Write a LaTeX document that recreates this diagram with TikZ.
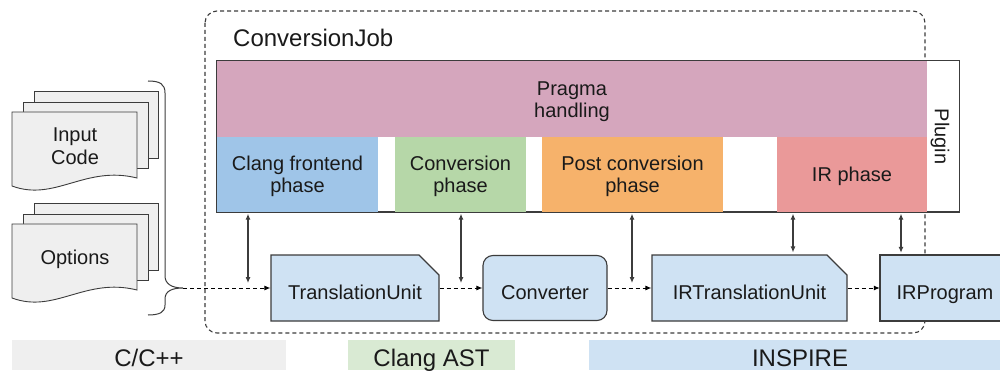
\documentclass[tikz,border=0pt]{standalone}
\usepackage{fontspec}
\setmainfont{Liberation Sans}
\usetikzlibrary{arrows.meta,shapes.misc}

\definecolor{pragmacol}{HTML}{D5A6BD}
\definecolor{clangcol}{HTML}{9FC5E8}
\definecolor{convcol}{HTML}{B6D7A8}
\definecolor{postcol}{HTML}{F6B26B}
\definecolor{ircol}{HTML}{EA9999}
\definecolor{unitcol}{HTML}{CFE2F3}
\definecolor{greycol}{HTML}{EFEFEF}
\definecolor{astcol}{HTML}{D9EAD3}
\definecolor{linecol}{HTML}{3C3C3C}
\definecolor{textcol}{HTML}{1A1A1A}

\tikzset{
  txt/.style={font=\fontsize{20}{22.5}\selectfont, text=textcol, align=center,
    inner sep=0pt, text depth=0pt},
  bigtxt/.style={font=\fontsize{24}{28}\selectfont, text=textcol, inner sep=0pt},
  phasebox/.style={txt, minimum height=75pt},
  unitbox/.style={txt, text height=22pt, draw=linecol, line width=1.1pt, fill=unitcol, minimum height=66pt},
  snipbox/.style={unitbox, chamfered rectangle, chamfered rectangle corners=north east,
    chamfered rectangle xsep=9pt, chamfered rectangle ysep=11pt},
  roundbox/.style={unitbox, rounded corners=10pt},
  band/.style={bigtxt, text depth=0pt, text height=23pt, minimum height=30pt},
  docline/.style={draw=linecol, line width=0.9pt, fill=greycol},
  jobline/.style={draw=linecol, line width=1.1pt, dash pattern=on 4pt off 3pt, rounded corners=12pt},
  flow/.style={draw=black, line width=1pt, dash pattern=on 4pt off 3pt,
    -{Latex[length=6pt,width=5pt]}},
  link/.style={draw=linecol, line width=1.1pt,
    {Latex[length=6pt,width=5pt]}-{Latex[length=6pt,width=5pt]}},
}

\begin{document}
\begin{tikzpicture}[x=1pt,y=-1pt]
\useasboundingbox (0,0) rectangle (1000,371);
\fill[white] (0,0) rectangle (1000,371);

% ConversionJob container
\draw[jobline] (205,11) rectangle (925,333);
\node[bigtxt, anchor=base west] (jobtitle) at (233,46.7) {ConversionJob};

% plugin frame with the phases inside it
\node[draw=linecol, line width=1pt, fill=white, minimum width=742pt, minimum height=151pt, inner sep=0pt]
  (plugin) at (588,136.5) {};
\node[phasebox, fill=pragmacol, minimum width=710pt, minimum height=76pt] (pragma) at (572,99.5) {Pragma\\handling};
\node[phasebox, fill=clangcol, minimum width=161pt] (clang) at (297.5,174.5) {Clang frontend\\phase};
\node[phasebox, fill=convcol, minimum width=131pt] (convph) at (460.5,174.5) {Conversion\\phase};
\node[phasebox, fill=postcol, minimum width=181pt] (postph) at (632.5,174.5) {Post conversion\\phase};
\node[phasebox, fill=ircol, minimum width=150pt] (irph) at (852,174.5) {IR phase};
\draw[linecol, line width=1pt] (plugin.north west) rectangle (plugin.south east);
\node[txt, rotate=-90] (plugintxt) at (942,136.5) {Plugin};

% input documents
\filldraw[docline] (34,91) rectangle (158,158);
\filldraw[docline] (23,102) rectangle (148,168);
\filldraw[docline] (12,112) -- (137,112) -- (137,178)
  .. controls (85,165) and (55,202) .. (12,186) -- cycle;
\node[txt, font=\fontsize{20}{23.3}\selectfont] (input) at (75,146) {Input\\Code};

\begin{scope}[shift={(0,112)}]
\filldraw[docline] (34,91) rectangle (158,158);
\filldraw[docline] (23,102) rectangle (148,168);
\filldraw[docline] (12,112) -- (137,112) -- (137,178)
  .. controls (85,165) and (55,202) .. (12,186) -- cycle;
\end{scope}
\node[txt] (options) at (75,257.5) {Options};

% brace gathering the inputs
\draw[linecol, line width=1pt] (148,81) .. controls (160,81) and (165,84) .. (165,93)
  -- (165,276) .. controls (165,284) and (172,288) .. (183,288)
  .. controls (172,288) and (165,291) .. (165,299)
  -- (165,305) .. controls (165,312) and (160,315) .. (148,315);
\coordinate (bracetip) at (183,288);

% data structures
\node[snipbox, minimum width=168pt] (tu) at (355,288) {TranslationUnit};
\node[roundbox, minimum width=124pt, minimum height=65pt] (conv) at (545,288) {Converter};
\node[snipbox, minimum width=195pt] (irtu) at (749.5,288) {IRTranslationUnit};
% the program box runs past the right edge of the page
\fill[unitcol] (880,255) rectangle (1000,321);
\draw[linecol, line width=1.1pt] (1000,255) -- (880,255) -- (880,321) -- (1000,321);
\node[txt, text height=22pt, minimum width=130pt, minimum height=66pt] (irprog) at (945,288) {IRProgram};

% data flow
\draw[flow] (bracetip) -- (tu.west);
\draw[flow] (tu.east) -- (conv.west);
\draw[flow] (conv.east) -- (irtu.west);
\draw[flow] (irtu.east) -- (irprog.west);

% phase interactions
\coordinate (l1) at (248,283);
\coordinate (l2) at (461,283);
\coordinate (l3) at (632,283);
\coordinate (l4) at (793,0);
\coordinate (l5) at (901,0);
\draw[link] ([yshift=-1.5pt]clang.south -| l1) -- (l1);
\draw[link] ([yshift=-1.5pt]convph.south -| l2) -- (l2);
\draw[link] ([yshift=-1.5pt]postph.south -| l3) -- (l3);
\draw[link] ([yshift=-1.5pt]irph.south -| l4) -- ([yshift=2pt]irtu.north -| l4);
\draw[link] ([yshift=-1.5pt]irph.south -| l5) -- ([yshift=2pt]irprog.north -| l5);

% representation layers
\fill[greycol] (12,340) rectangle (286,370);
\fill[astcol] (348,340) rectangle (515,370);
\fill[unitcol] (589,340) rectangle (1000,370);
\node[band] (cpp) at (149,355) {C/C++};
\node[band] (ast) at (431.5,355) {Clang AST};
\node[band] (inspire) at (800,355) {INSPIRE};
\end{tikzpicture}
\end{document}
